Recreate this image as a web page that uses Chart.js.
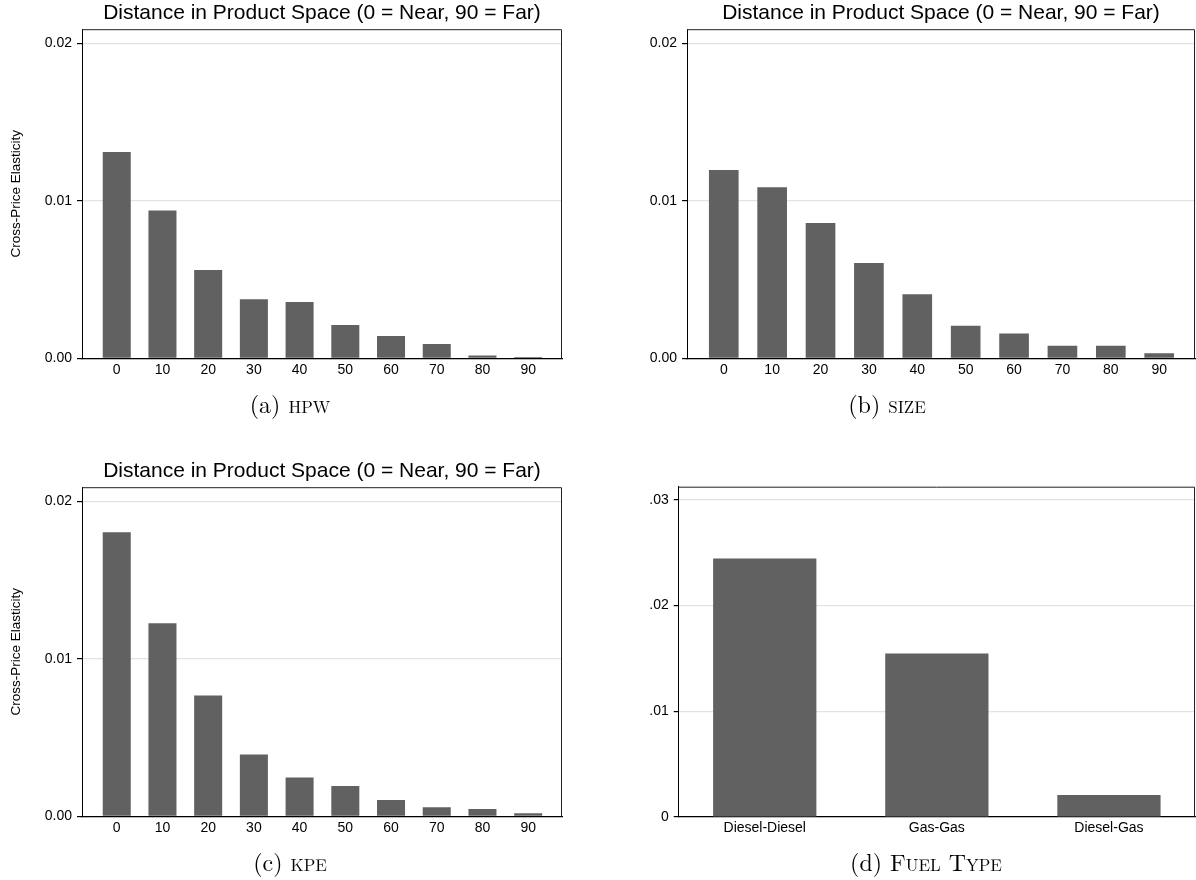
<!DOCTYPE html>
<html>
<head>
<meta charset="utf-8">
<script src="https://cdn.jsdelivr.net/npm/chart.js@4.4.1/dist/chart.umd.min.js"></script>
<style>
  body { margin: 0; background: #fff; }
  #wrap { position: relative; width: 1196px; height: 880px; overflow: hidden; }
  .panel { position: absolute; }
  .caption {
    position: absolute;
    font-family: 'Latin Modern Roman', 'Liberation Serif', serif;
    font-size: 24px;
    color: #000;
    white-space: nowrap;
    transform: translate(-50%, -50%);
  }
  .caption span { font-variant: small-caps; }
</style>
</head>
<body>
<div id="wrap">
  <div class="panel" style="left:0;top:0"><canvas id="chartA" width="598" height="390"></canvas></div>
  <div class="panel" style="left:600px;top:0"><canvas id="chartB" width="596" height="390"></canvas></div>
  <div class="panel" style="left:0;top:458px"><canvas id="chartC" width="598" height="390"></canvas></div>
  <div class="panel" style="left:600px;top:458px"><canvas id="chartD" width="596" height="390"></canvas></div>
  <div class="caption" style="left:290px;top:403px">(a) <span>hpw</span></div>
  <div class="caption" style="left:887px;top:403px">(b) <span>size</span></div>
  <div class="caption" style="left:290px;top:861px">(c) <span>kpe</span></div>
  <div class="caption" style="left:926px;top:861px">(d) <span>Fuel Type</span></div>
</div>
<script>
// Datos
const distancias = [0, 10, 20, 30, 40, 50, 60, 70, 80, 90];
const valoresHpw = [0.0131, 0.00938, 0.00561, 0.00375, 0.00358, 0.00212, 0.00142, 0.00091, 0.00017, 0.00008];
const valoresSize = [0.01196, 0.01086, 0.00859, 0.00605, 0.00406, 0.00207, 0.00157, 0.0008, 0.0008, 0.00032];
const valoresKpe = [0.01803, 0.01226, 0.00766, 0.00392, 0.00246, 0.00193, 0.00104, 0.00057, 0.00047, 0.00019];
const tiposCombustible = ['Diesel-Diesel', 'Gas-Gas', 'Diesel-Gas'];
const valoresCombustible = [0.02445, 0.01546, 0.00208];

const tituloPanel = 'Distance in Product Space (0 = Near, 90 = Far)';
const tituloEje = 'Cross-Price Elasticity';
const colorBarra = '#616161';
const colorGrilla = '#e3e3e3';

Chart.defaults.font.family = "'Liberation Sans', Arial, sans-serif";
Chart.defaults.color = '#000';
Chart.defaults.animation = false;

// Marco superior y derecho del área del gráfico
const marco = {
    id: 'marco',
    afterDraw(chart) {
        const {ctx, chartArea: a} = chart;
        ctx.save();
        ctx.strokeStyle = '#222';
        ctx.lineWidth = 1;
        ctx.beginPath();
        ctx.moveTo(a.left, a.top + 0.5);
        ctx.lineTo(a.right - 0.5, a.top + 0.5);
        ctx.lineTo(a.right - 0.5, a.bottom);
        ctx.stroke();
        ctx.restore();
    }
};

function ejeY(ancho, maximo, formato, conTitulo) {
    return {
        min: 0,
        max: maximo,
        afterFit(scale) { scale.width = ancho; },
        ticks: {
            stepSize: 0.01,
            includeBounds: false,
            padding: 5,
            font: { size: 14 },
            callback: formato
        },
        grid: { color: colorGrilla, lineWidth: 1.2, tickLength: 5, tickColor: '#000' },
        border: { color: '#000', width: 1 },
        title: {
            display: conTitulo,
            text: tituloEje,
            font: { size: 13.5 },
            padding: { top: 8, bottom: 0 }
        }
    };
}

// Paneles de distancia (eje x lineal)
function panelDistancia(id, valores, anchoY, conTitulo, derecha) {
    return new Chart(document.getElementById(id), {
        type: 'bar',
        data: {
            datasets: [{
                data: distancias.map((d, i) => ({ x: d, y: valores[i] })),
                backgroundColor: colorBarra,
                borderWidth: 0,
                categoryPercentage: 1,
                barPercentage: 0.613
            }]
        },
        options: {
            responsive: false,
            layout: { padding: { left: 0, right: derecha, top: 0, bottom: 0 } },
            plugins: {
                legend: { display: false },
                tooltip: { enabled: false },
                title: {
                    display: true,
                    text: tituloPanel,
                    fullSize: false,
                    font: { size: 21, weight: 'normal' },
                    padding: { top: 1, bottom: 3 }
                }
            },
            scales: {
                x: {
                    type: 'linear',
                    min: -7.6,
                    max: 97.4,
                    offset: false,
                    afterFit(scale) { scale.height = 31.7; },
                    ticks: { stepSize: 10, includeBounds: false, padding: 3, font: { size: 14 }, maxRotation: 0 },
                    grid: { display: false, drawTicks: false },
                    border: { color: '#000', width: 1.2 }
                },
                y: ejeY(anchoY, 0.02089, v => v.toFixed(2), conTitulo)
            }
        },
        plugins: [marco]
    });
}

const chartA = panelDistancia('chartA', valoresHpw, 82, true, 36);
const chartB = panelDistancia('chartB', valoresSize, 87, false, 1);
const chartC = panelDistancia('chartC', valoresKpe, 82, true, 36);

// Panel de tipo de combustible
const chartD = new Chart(document.getElementById('chartD'), {
    type: 'bar',
    data: {
        labels: tiposCombustible,
        datasets: [{
            data: valoresCombustible,
            backgroundColor: colorBarra,
            borderWidth: 0,
            categoryPercentage: 1,
            barPercentage: 0.6
        }]
    },
    options: {
        responsive: false,
        layout: { padding: { left: 0, right: 1, top: 28.7, bottom: 0 } },
        plugins: { legend: { display: false }, tooltip: { enabled: false } },
        scales: {
            x: {
                afterFit(scale) { scale.height = 31; },
                ticks: { padding: 3, font: { size: 14 }, maxRotation: 0 },
                grid: { display: false, drawTicks: false },
                border: { color: '#000', width: 1.2 }
            },
            y: ejeY(78.7, 0.03123, v => v === 0 ? '0' : v.toFixed(2).replace(/^0/, ''), false)
        }
    },
    plugins: [marco]
});
</script>
</body>
</html>
